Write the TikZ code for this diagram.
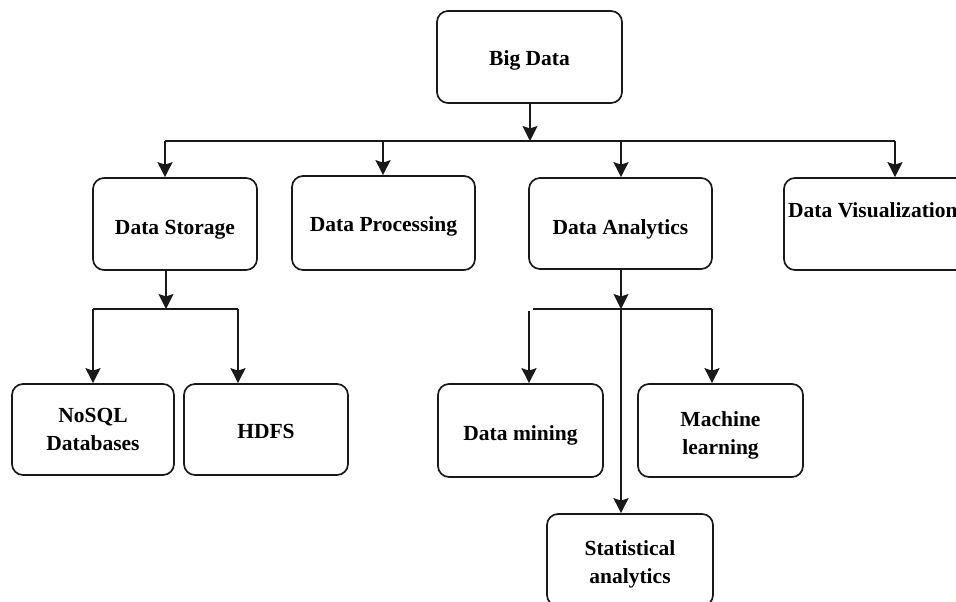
\documentclass[tikz,border=0pt]{standalone}
\usepackage{fontspec}
\setmainfont{Liberation Serif}
\usetikzlibrary{arrows.meta}
\newcommand{\bxt}[2][4pt]{\raisebox{-#1}[\height][\depth]{\begin{tabular}{@{}c@{}}#2\end{tabular}}}
\begin{document}
\begin{tikzpicture}[x=1pt,y=-1pt,
  box/.style={draw=black!90,line width=1.7pt,rounded corners=11pt,fill=white,
    inner sep=0pt,font=\bfseries\fontsize{21.5}{28}\selectfont},
  lbl/.style={inner sep=0pt,font=\bfseries\fontsize{21.5}{28}\selectfont},
  wire/.style={draw=black!90,line width=1.7pt},
  arr/.style={wire,-{Stealth[length=15pt,width=15pt,inset=2.5pt]}}]
\useasboundingbox (0,0) rectangle (956,602);
\clip (0,0) rectangle (956,602);
% boxes
\node[box,minimum width=185pt,minimum height=92pt] (big) at (529.5,57) {\bxt[3pt]{Big Data}};
\node[box,minimum width=164pt,minimum height=92pt] (stor) at (175,224) {\bxt[5pt]{Data Storage}};
\node[box,minimum width=183pt,minimum height=94pt] (proc) at (383.5,223) {\bxt[3pt]{Data Processing}};
\node[box,minimum width=183pt,minimum height=91pt] (ana) at (620.5,223.5) {\bxt[5pt]{Data Analytics}};
\node[box,minimum width=218pt,minimum height=92pt] (vis) at (893,224) {};
\node[lbl,anchor=west] (vist) at (788,210) {Data Visualization};
\node[box,minimum width=162pt,minimum height=91pt] (nosql) at (93,429.5) {\bxt[1pt]{NoSQL\\Databases}};
\node[box,minimum width=164pt,minimum height=91pt] (hdfs) at (266,429.5) {\bxt[3pt]{HDFS}};
\node[box,minimum width=165pt,minimum height=93pt] (mine) at (520.5,430.5) {\bxt{Data mining}};
\node[box,minimum width=165pt,minimum height=93pt] (ml) at (720.5,430.5) {\bxt{Machine\\learning}};
\node[box,minimum width=166pt,minimum height=92pt] (stat) at (630,560) {\bxt{Statistical\\analytics}};
% top level connectors
\coordinate (hL) at (165,141);
\coordinate (hR) at (895,141);
\coordinate (hB) at (530,141);
\coordinate (hP) at (383,141);
\coordinate (hA) at (621,141);
\draw[wire] (hL) -- (hR);
\draw[arr] (big.south -| hB) -- (hB);
\draw[arr] (hL) -- (hL |- stor.north);
\draw[arr] (hP) -- (hP |- proc.north);
\draw[arr] (hA) -- (hA |- ana.north);
\draw[arr] (hR) -- (hR |- vis.north);
% storage branch
\coordinate (sC) at (166,309);
\coordinate (sL) at (93,309);
\coordinate (sR) at (238,309);
\draw[arr] (stor.south -| sC) -- (sC);
\draw[wire] (sL) -- (sR);
\draw[arr] (sL) -- (sL |- nosql.north);
\draw[arr] (sR) -- (sR |- hdfs.north);
% analytics branch
\coordinate (aC) at (621,309);
\coordinate (aL) at (533,309);
\coordinate (aLv) at (529,311);
\coordinate (aR) at (712,309);
\draw[arr] (ana.south -| aC) -- (aC);
\draw[wire] (aL) -- (aR);
\draw[arr] (aLv) -- (aLv |- mine.north);
\draw[arr] (aR) -- (aR |- ml.north);
\draw[arr] (aC) -- (aC |- stat.north);
\end{tikzpicture}
\end{document}
